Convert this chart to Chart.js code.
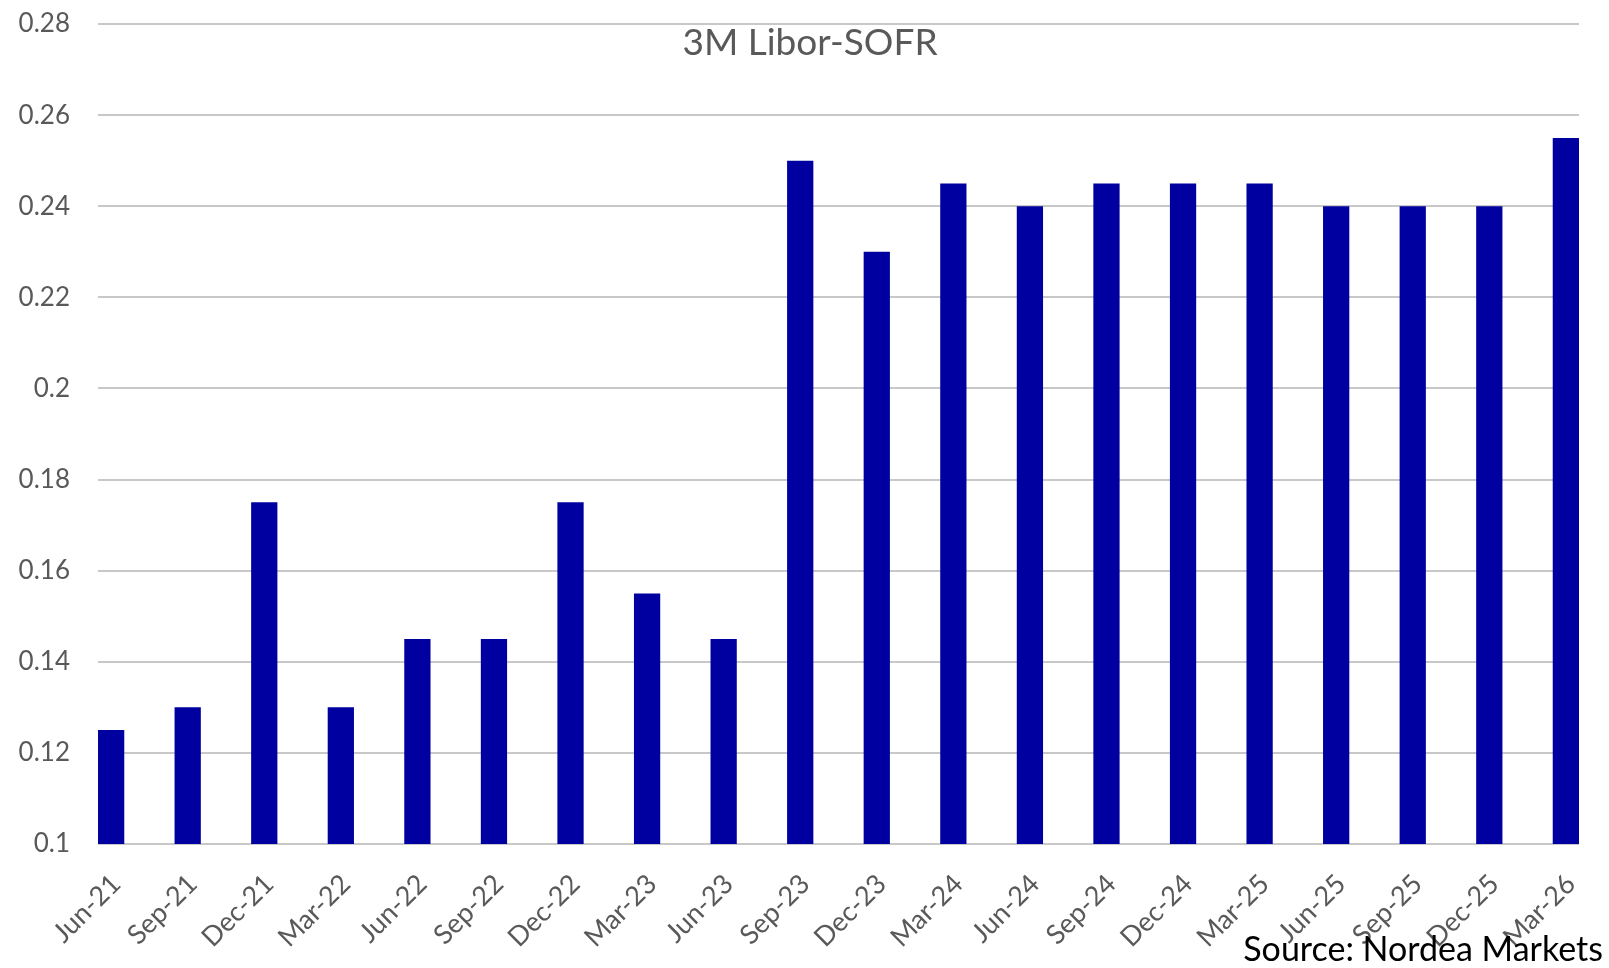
<!DOCTYPE html>
<html>
<head>
<meta charset="utf-8">
<title>3M Libor-SOFR</title>
<script src="https://cdn.jsdelivr.net/npm/chart.js@4.4.1/dist/chart.umd.min.js"></script>
<style>
    html, body { margin: 0; padding: 0; background: #ffffff; }
    #wrap { position: relative; width: 1609px; height: 968px; }
</style>
</head>
<body>
<div id="wrap"><canvas id="spread"></canvas></div>
<script>
// DATA
const quarters = ['Jun-21', 'Sep-21', 'Dec-21', 'Mar-22', 'Jun-22', 'Sep-22', 'Dec-22', 'Mar-23', 'Jun-23', 'Sep-23',
                  'Dec-23', 'Mar-24', 'Jun-24', 'Sep-24', 'Dec-24', 'Mar-25', 'Jun-25', 'Sep-25', 'Dec-25', 'Mar-26'];
const spread = [0.125, 0.13, 0.175, 0.13, 0.145, 0.145, 0.175, 0.155, 0.145, 0.25,
                0.23, 0.245, 0.24, 0.245, 0.245, 0.245, 0.24, 0.24, 0.24, 0.255];
const yMin = 0.1;
const yMax = 0.28;
const yStep = 0.02;
const chartTitle = '3M Libor-SOFR';
const sourceNote = 'Source: Nordea Markets';
// DATA

const barFrac = 0.343;
const fontFamily = "Lato, 'Open Sans', sans-serif";

// TEXT INSIDE THE PLOT (title + source)
const extraText = {
    id: 'extraText',
    afterDraw(chart) {
        const ctx = chart.ctx;
        ctx.save();
        ctx.fillStyle = '#595959';
        ctx.font = '37px ' + fontFamily;
        ctx.textAlign = 'center';
        ctx.textBaseline = 'alphabetic';
        ctx.fillText(chartTitle, 810, 55);

        ctx.fillStyle = '#000000';
        ctx.font = '34px ' + fontFamily;
        ctx.textAlign = 'right';
        ctx.fillText(sourceNote, 1603, 961);
        ctx.restore();
    }
};

const ctx = document.getElementById('spread').getContext('2d');
new Chart(ctx, {
    type: 'bar',
    data: {
        labels: quarters,
        datasets: [{
            label: chartTitle,
            data: spread,
            backgroundColor: '#0000A0',
            borderWidth: 0,
            categoryPercentage: 1,
            barPercentage: barFrac
        }]
    },
    options: {
        responsive: true,
        maintainAspectRatio: false,
        animation: false,
        layout: { padding: { top: 24, right: 30, bottom: 0, left: 0 } },
        plugins: {
            legend: { display: false },
            tooltip: { enabled: false }
        },
        scales: {
            x: {
                offset: false,
                grid: { display: false, drawTicks: false },
                border: { display: false },
                ticks: {
                    color: '#595959',
                    font: { family: fontFamily, size: 27 },
                    minRotation: 45,
                    maxRotation: 45,
                    autoSkip: false,
                    padding: 24,
                    labelOffset: 5
                },
                afterBuildTicks: function(scale) {
                    // first bar starts at the plot edge, last bar ends at it
                    scale._startValue = -barFrac / 2;
                    scale._valueRange = quarters.length - 1 + barFrac;
                },
                afterFit: function(scale) {
                    scale.height = 124;
                    scale.paddingLeft = 0;
                    scale.paddingRight = 0;
                }
            },
            y: {
                min: yMin,
                max: yMax,
                grid: { color: '#c8c8c8', lineWidth: 2, drawTicks: false },
                border: { display: false },
                ticks: {
                    stepSize: yStep,
                    color: '#595959',
                    font: { family: fontFamily, size: 26 },
                    padding: 28,
                    callback: function(v) { return String(+v.toFixed(2)); }
                },
                afterFit: function(scale) {
                    scale.width = 98;
                    scale.paddingTop = 0;
                    scale.paddingBottom = 0;
                }
            }
        }
    },
    plugins: [extraText]
});
</script>
</body>
</html>
